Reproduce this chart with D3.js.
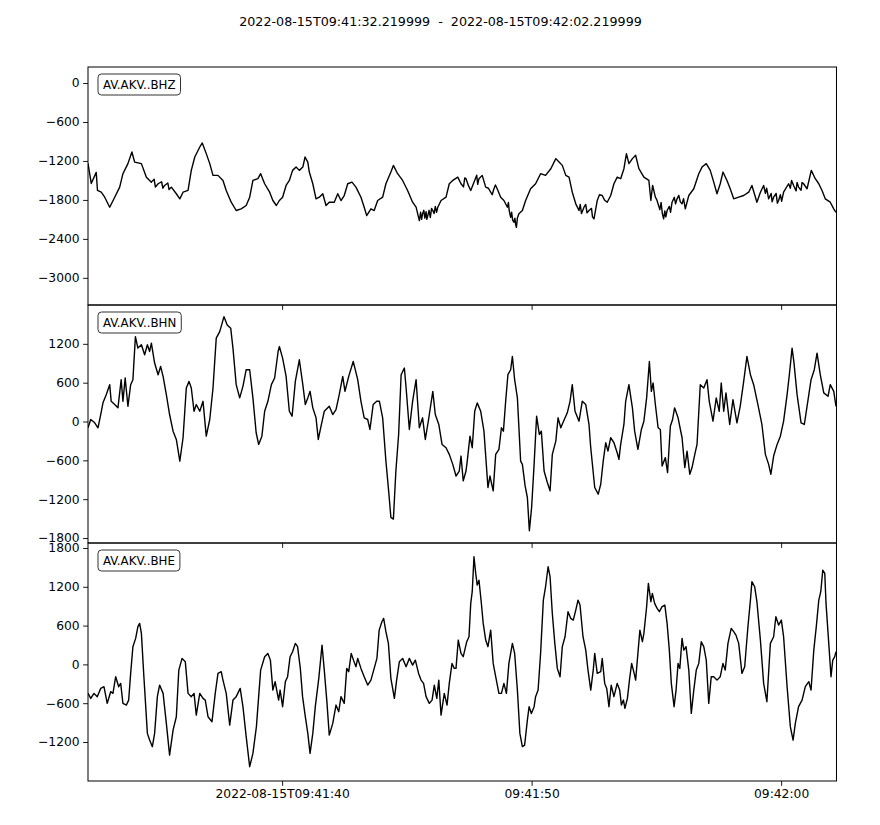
<!DOCTYPE html>
<html><head><meta charset="utf-8">
<script src="https://cdn.jsdelivr.net/npm/d3@7"></script>
<style>body{margin:0;background:#fff}svg{display:block;font-family:"DejaVu Sans",sans-serif}</style>
</head><body><svg id="c" width="880" height="825"></svg>
<script>
const startISO = "2022-08-15T09:41:32.220Z";
const durationSec = 30;
const titleText = "2022-08-15T09:41:32.219999  -  2022-08-15T09:42:02.219999";
const traceIds = ["AV.AKV..BHZ", "AV.AKV..BHN", "AV.AKV..BHE"];

// [seconds after start, counts]
const bhz = [[0.00,-1237],[0.13,-1546],[0.33,-1376],[0.38,-1654],[0.53,-1681],[0.67,-1758],[0.87,-1912],[1.07,-1758],[1.27,-1603],[1.40,-1396],[1.60,-1241],[1.76,-1062],[1.87,-1217],[2.14,-1241],[2.34,-1449],[2.54,-1526],[2.65,-1480],[2.70,-1600],[2.81,-1551],[2.95,-1520],[3.00,-1620],[3.07,-1577],[3.20,-1540],[3.25,-1640],[3.34,-1603],[3.54,-1705],[3.68,-1783],[3.81,-1681],[4.01,-1654],[4.14,-1345],[4.28,-1139],[4.48,-985],[4.58,-923],[4.74,-1087],[4.88,-1241],[5.01,-1422],[5.21,-1422],[5.41,-1500],[5.54,-1654],[5.74,-1835],[5.94,-1963],[6.14,-1937],[6.34,-1886],[6.48,-1758],[6.61,-1500],[6.81,-1473],[6.92,-1396],[7.08,-1551],[7.28,-1681],[7.41,-1809],[7.55,-1886],[7.67,-1809],[7.80,-1758],[7.94,-1577],[8.07,-1500],[8.20,-1345],[8.34,-1294],[8.47,-1345],[8.61,-1294],[8.70,-1139],[8.81,-1217],[8.87,-1371],[9.01,-1551],[9.14,-1783],[9.27,-1758],[9.41,-1705],[9.54,-1886],[9.67,-1835],[9.87,-1835],[10.01,-1705],[10.14,-1809],[10.27,-1732],[10.41,-1551],[10.58,-1526],[10.74,-1603],[10.94,-1758],[11.07,-1912],[11.17,-2041],[11.34,-1937],[11.47,-1963],[11.61,-1809],[11.81,-1758],[11.94,-1551],[12.14,-1371],[12.24,-1268],[12.41,-1396],[12.61,-1500],[12.81,-1654],[13.01,-1835],[13.15,-1912],[13.28,-2118],[13.33,-1990],[13.37,-2100],[13.41,-2014],[13.46,-1960],[13.50,-2080],[13.55,-1980],[13.58,-2100],[13.62,-2041],[13.67,-1960],[13.72,-2070],[13.77,-1930],[13.82,-1963],[13.87,-2010],[13.92,-1900],[13.97,-1990],[14.02,-1912],[14.15,-1809],[14.35,-1758],[14.48,-1551],[14.62,-1500],[14.82,-1449],[14.95,-1551],[15.05,-1600],[15.10,-1460],[15.15,-1473],[15.25,-1580],[15.34,-1654],[15.47,-1526],[15.58,-1420],[15.62,-1560],[15.67,-1473],[15.80,-1422],[15.94,-1603],[16.05,-1620],[16.14,-1681],[16.20,-1720],[16.27,-1628],[16.33,-1570],[16.40,-1628],[16.54,-1758],[16.67,-1809],[16.81,-1912],[16.85,-1840],[16.88,-1960],[16.94,-2067],[16.98,-1990],[17.02,-2110],[17.07,-2144],[17.11,-2080],[17.14,-2180],[17.17,-2222],[17.21,-2080],[17.27,-2014],[17.41,-1963],[17.54,-1809],[17.74,-1628],[17.94,-1551],[18.14,-1396],[18.34,-1422],[18.55,-1319],[18.75,-1164],[18.88,-1217],[19.01,-1268],[19.15,-1422],[19.28,-1449],[19.41,-1681],[19.55,-1860],[19.68,-1963],[19.73,-1870],[19.78,-2010],[19.88,-1912],[19.95,-1870],[20.00,-2000],[20.08,-1963],[20.18,-1930],[20.22,-2060],[20.28,-2092],[20.41,-1809],[20.50,-1720],[20.61,-1732],[20.70,-1800],[20.81,-1835],[20.95,-1732],[21.08,-1551],[21.21,-1449],[21.35,-1473],[21.48,-1319],[21.58,-1087],[21.68,-1241],[21.82,-1164],[21.95,-1113],[22.08,-1319],[22.28,-1449],[22.48,-1500],[22.56,-1809],[22.63,-1577],[22.74,-1758],[22.80,-1800],[22.87,-1886],[22.92,-1950],[22.97,-1840],[23.02,-2010],[23.07,-2092],[23.12,-1970],[23.16,-2060],[23.21,-1963],[23.30,-1900],[23.35,-1990],[23.41,-1835],[23.50,-1760],[23.55,-1860],[23.61,-1783],[23.68,-1730],[23.74,-1830],[23.81,-1860],[23.87,-1780],[23.94,-1937],[24.08,-1732],[24.28,-1628],[24.48,-1396],[24.61,-1294],[24.78,-1241],[24.94,-1345],[25.08,-1526],[25.21,-1705],[25.34,-1551],[25.45,-1371],[25.61,-1500],[25.74,-1628],[25.88,-1783],[26.08,-1758],[26.28,-1732],[26.48,-1681],[26.61,-1577],[26.81,-1835],[26.95,-1681],[27.08,-1577],[27.15,-1700],[27.20,-1620],[27.28,-1783],[27.38,-1700],[27.42,-1830],[27.48,-1758],[27.58,-1700],[27.63,-1850],[27.68,-1809],[27.75,-1720],[27.80,-1820],[27.88,-1681],[28.08,-1551],[28.15,-1620],[28.20,-1500],[28.28,-1577],[28.38,-1660],[28.42,-1530],[28.48,-1603],[28.58,-1650],[28.62,-1530],[28.68,-1551],[28.82,-1628],[28.99,-1345],[29.15,-1473],[29.29,-1551],[29.42,-1654],[29.55,-1783],[29.75,-1835],[29.89,-1937],[29.98,-1990]];

const bhn = [[0.00,-97],[0.11,31],[0.27,-20],[0.40,-97],[0.51,108],[0.60,288],[0.73,415],[0.87,569],[0.93,312],[1.07,262],[1.20,211],[1.33,646],[1.40,312],[1.49,672],[1.60,235],[1.71,569],[1.80,646],[1.90,1312],[2.00,1134],[2.14,1185],[2.27,1031],[2.38,1185],[2.47,1082],[2.54,1211],[2.67,903],[2.81,723],[2.91,851],[3.01,697],[3.14,415],[3.27,108],[3.41,-149],[3.54,-277],[3.68,-611],[3.81,-251],[3.94,518],[4.05,620],[4.14,518],[4.25,158],[4.34,262],[4.48,158],[4.61,312],[4.74,-226],[4.88,31],[5.01,518],[5.14,1288],[5.28,1389],[5.45,1620],[5.58,1492],[5.72,1442],[5.81,1134],[5.94,569],[6.08,365],[6.21,543],[6.34,800],[6.48,800],[6.61,365],[6.74,-174],[6.84,-354],[6.97,-226],[7.08,158],[7.21,312],[7.35,569],[7.48,672],[7.62,1082],[7.67,1158],[7.80,980],[7.94,697],[8.07,158],[8.18,82],[8.31,620],[8.47,954],[8.61,569],[8.71,262],[8.81,365],[8.90,466],[9.01,211],[9.14,57],[9.23,-277],[9.34,-72],[9.47,158],[9.67,235],[9.81,108],[9.94,185],[10.07,415],[10.21,697],[10.30,466],[10.45,697],[10.63,928],[10.81,646],[10.94,312],[11.07,57],[11.21,31],[11.30,-123],[11.43,262],[11.57,312],[11.68,312],[11.81,57],[11.94,-611],[12.05,-1072],[12.14,-1482],[12.24,-1508],[12.34,-765],[12.45,-200],[12.55,723],[12.68,826],[12.75,518],[12.88,-123],[13.01,312],[13.15,646],[13.28,-97],[13.41,57],[13.52,-277],[13.65,31],[13.82,466],[13.92,108],[14.06,-46],[14.19,-354],[14.35,-405],[14.48,-508],[14.62,-662],[14.75,-842],[14.88,-765],[14.95,-534],[15.04,-918],[15.15,-765],[15.20,-611],[15.31,-226],[15.40,-405],[15.50,158],[15.60,288],[15.74,158],[15.87,-149],[16.03,-1020],[16.11,-842],[16.24,-1072],[16.34,-508],[16.47,-431],[16.57,-97],[16.65,-149],[16.74,312],[16.83,723],[16.94,800],[17.01,1005],[17.10,646],[17.21,365],[17.34,-611],[17.41,-662],[17.52,-995],[17.61,-1174],[17.69,-1688],[17.78,-1328],[17.88,-662],[17.98,82],[18.09,-200],[18.17,-149],[18.28,-765],[18.41,-943],[18.52,-1072],[18.61,-508],[18.75,-303],[18.84,57],[18.95,-97],[19.09,31],[19.21,134],[19.32,312],[19.41,569],[19.52,158],[19.68,5],[19.81,312],[19.95,262],[20.08,-46],[20.15,-405],[20.31,-1020],[20.45,-1123],[20.55,-969],[20.65,-611],[20.75,-328],[20.84,-457],[20.95,-251],[21.08,-328],[21.21,-482],[21.28,-585],[21.35,-354],[21.48,-46],[21.55,312],[21.68,569],[21.82,211],[21.91,-149],[22.04,-431],[22.18,-123],[22.28,5],[22.39,365],[22.50,928],[22.58,466],[22.65,595],[22.74,262],[22.85,-97],[22.94,-123],[23.01,-688],[23.14,-558],[23.23,-789],[23.34,-72],[23.43,31],[23.51,211],[23.65,57],[23.81,-251],[23.92,-712],[24.01,-457],[24.12,-815],[24.21,-712],[24.32,-508],[24.41,-354],[24.54,569],[24.68,518],[24.81,646],[24.90,312],[25.05,5],[25.18,365],[25.30,158],[25.38,595],[25.48,158],[25.57,442],[25.72,-46],[25.85,338],[26.01,-20],[26.14,235],[26.28,620],[26.41,1005],[26.55,723],[26.68,569],[26.85,262],[27.01,-46],[27.15,-508],[27.28,-662],[27.37,-815],[27.48,-534],[27.62,-354],[27.75,-226],[27.88,5],[28.02,415],[28.11,723],[28.22,1134],[28.29,928],[28.42,415],[28.58,-20],[28.71,-46],[28.85,312],[28.98,646],[29.11,800],[29.22,1057],[29.35,723],[29.49,442],[29.66,389],[29.75,569],[29.89,466],[29.98,235]];

const bhe = [[0.00,-448],[0.11,-526],[0.24,-448],[0.37,-499],[0.51,-371],[0.64,-345],[0.77,-603],[0.91,-422],[1.00,-448],[1.11,-190],[1.23,-345],[1.31,-294],[1.40,-603],[1.54,-629],[1.63,-552],[1.71,-139],[1.80,274],[1.91,402],[2.00,583],[2.07,634],[2.14,479],[2.24,-190],[2.38,-1067],[2.47,-1170],[2.58,-1272],[2.67,-1067],[2.78,-499],[2.87,-320],[3.01,-448],[3.14,-912],[3.27,-1402],[3.41,-1016],[3.54,-809],[3.64,-88],[3.77,93],[3.90,42],[4.01,-448],[4.14,-499],[4.25,-448],[4.34,-784],[4.48,-448],[4.61,-526],[4.70,-552],[4.81,-809],[4.97,-886],[5.10,-448],[5.21,-139],[5.34,-113],[5.41,-243],[5.54,-448],[5.68,-938],[5.81,-552],[5.94,-499],[6.10,-371],[6.21,-654],[6.34,-1118],[6.48,-1582],[6.61,-1376],[6.75,-963],[6.92,-88],[7.08,119],[7.21,170],[7.31,66],[7.41,-397],[7.50,-267],[7.64,-552],[7.70,-397],[7.80,-654],[7.91,-267],[8.00,-190],[8.10,119],[8.20,196],[8.31,325],[8.40,274],[8.51,-62],[8.60,-499],[8.71,-809],[8.81,-1067],[8.90,-1376],[9.01,-1067],[9.11,-654],[9.25,-216],[9.38,298],[9.47,-88],[9.57,-552],[9.67,-1093],[9.81,-912],[9.94,-629],[10.05,-731],[10.14,-499],[10.27,-603],[10.37,-62],[10.45,-113],[10.55,170],[10.64,66],[10.74,-36],[10.81,93],[10.94,-62],[11.07,-190],[11.21,-320],[11.34,-243],[11.47,-62],[11.58,93],[11.67,530],[11.78,660],[11.85,711],[11.94,506],[12.04,325],[12.14,-216],[12.28,-526],[12.37,-243],[12.48,42],[12.61,93],[12.75,-36],[12.88,93],[13.01,-11],[13.12,66],[13.25,-139],[13.35,-243],[13.45,-294],[13.55,-499],[13.68,-603],[13.79,-552],[13.88,-320],[13.98,-526],[14.06,-243],[14.15,-784],[14.28,-448],[14.39,-629],[14.48,-294],[14.59,15],[14.68,-62],[14.75,-62],[14.84,376],[14.95,170],[15.04,119],[15.18,351],[15.27,428],[15.34,943],[15.40,1124],[15.47,1665],[15.54,1407],[15.60,1226],[15.67,1303],[15.76,969],[15.84,634],[15.94,376],[16.03,274],[16.14,530],[16.24,15],[16.34,-190],[16.47,-448],[16.57,-448],[16.67,-294],[16.77,-448],[16.87,15],[17.01,325],[17.10,170],[17.21,-397],[17.31,-1067],[17.41,-1272],[17.50,-1248],[17.61,-861],[17.68,-654],[17.77,-758],[17.88,-654],[17.94,-499],[18.04,-397],[18.14,170],[18.25,994],[18.34,1201],[18.44,1510],[18.52,1356],[18.61,788],[18.71,325],[18.81,-62],[18.92,-190],[19.01,274],[19.12,428],[19.24,815],[19.35,711],[19.45,685],[19.55,840],[19.64,994],[19.72,917],[19.84,428],[19.95,221],[20.04,-88],[20.15,-397],[20.25,-88],[20.31,170],[20.41,-139],[20.55,-113],[20.61,93],[20.71,-294],[20.79,-371],[20.88,-654],[20.97,-320],[21.08,-499],[21.21,-294],[21.31,-397],[21.38,-629],[21.46,-552],[21.52,-680],[21.62,-526],[21.71,-216],[21.79,15],[21.89,-139],[21.95,-243],[22.04,170],[22.12,530],[22.22,351],[22.28,479],[22.39,892],[22.46,1252],[22.56,969],[22.62,1098],[22.71,943],[22.81,866],[22.90,815],[23.01,892],[23.12,917],[23.21,634],[23.30,221],[23.38,-294],[23.49,-654],[23.57,-397],[23.65,15],[23.72,-62],[23.81,402],[23.88,221],[23.97,274],[24.08,-88],[24.18,-758],[24.28,-397],[24.38,-88],[24.48,15],[24.58,351],[24.68,274],[24.78,66],[24.88,-603],[24.98,-190],[25.08,-190],[25.21,-243],[25.34,-190],[25.45,15],[25.54,-88],[25.65,325],[25.78,557],[25.88,506],[25.97,453],[26.08,325],[26.21,-139],[26.32,-36],[26.45,583],[26.55,994],[26.61,1279],[26.72,1201],[26.81,969],[26.95,376],[27.08,-294],[27.21,-577],[27.35,325],[27.48,428],[27.57,737],[27.68,608],[27.79,685],[27.88,428],[28.02,-345],[28.15,-963],[28.26,-1170],[28.35,-912],[28.48,-654],[28.62,-552],[28.75,-345],[28.89,-267],[28.98,-397],[29.09,221],[29.19,583],[29.29,994],[29.37,1124],[29.45,1458],[29.53,1407],[29.58,943],[29.69,325],[29.78,-190],[29.85,66],[29.93,119],[29.98,196]];

const yLimits = [[-3418, 247], [-1877, 1800], [-1803, 1877]];
const yTickValues = [
  [-3000, -2400, -1800, -1200, -600, 0],
  [-1800, -1200, -600, 0, 600, 1200],
  [-1200, -600, 0, 600, 1200, 1800]
];
const xTickTimes = ["2022-08-15T09:41:40Z", "2022-08-15T09:41:50Z", "2022-08-15T09:42:00Z"];
const xTickLabels = ["2022-08-15T09:41:40", "09:41:50", "09:42:00"];

const traces = [bhz, bhn, bhe];

// layout
const plotL = 88, plotR = 836.5, plotT = 67, plotB = 781;
const panelH = (plotB - plotT) / 3;
const fontSize = 12.3;

const svg = d3.select("#c");
const t0 = new Date(startISO);
const t1 = new Date(t0.getTime() + durationSec * 1000);
const x = d3.scaleUtc().domain([t0, t1]).range([plotL, plotR]);
const tAt = s => new Date(t0.getTime() + s * 1000);
const fmt = d => d < 0 ? "\u2212" + Math.abs(d) : String(d);

svg.append("text")
  .attr("x", 440.5).attr("y", 26)
  .attr("text-anchor", "middle")
  .style("font-size", "12.7px")
  .style("white-space", "pre")
  .text(titleText);

traces.forEach((data, i) => {
  const y0 = plotT + i * panelH, y1 = y0 + panelH;
  const y = d3.scaleLinear().domain(yLimits[i]).range([y1, y0]);
  const g = svg.append("g");

  svg.append("clipPath").attr("id", "clip" + i)
    .append("rect").attr("x", plotL).attr("y", y0).attr("width", plotR - plotL).attr("height", panelH);

  const line = d3.line().x(d => x(tAt(d[0]))).y(d => y(d[1]));
  g.append("path").datum(data)
    .attr("clip-path", `url(#clip${i})`)
    .attr("fill", "none").attr("stroke", "#000")
    .attr("stroke-width", 1.4).attr("stroke-linejoin", "round")
    .attr("d", line);

  const ya = g.append("g").attr("transform", `translate(${plotL},0)`)
    .call(d3.axisLeft(y).tickValues(yTickValues[i]).tickFormat(fmt).tickSize(4.9).tickPadding(3.5));
  ya.select(".domain").remove();
  ya.selectAll("text").style("font-size", fontSize + "px").style("font-family", "DejaVu Sans");
  ya.selectAll("line").attr("stroke", "#000").attr("stroke-width", 0.9);

  const xa = g.append("g").attr("transform", `translate(0,${y1})`)
    .call(d3.axisBottom(x).tickValues(xTickTimes.map(s => new Date(s)))
      .tickFormat((d, k) => i === 2 ? xTickLabels[k] : "").tickSize(4.9).tickPadding(3.5));
  xa.select(".domain").remove();
  xa.selectAll("text").style("font-size", fontSize + "px").style("font-family", "DejaVu Sans");
  xa.selectAll("line").attr("stroke", "#000").attr("stroke-width", 0.9);

  g.append("rect").attr("x", plotL).attr("y", y0).attr("width", plotR - plotL).attr("height", panelH)
    .attr("fill", "none").attr("stroke", "#000").attr("stroke-width", 1);

  const lab = g.append("g");
  const txt = lab.append("text").attr("x", 103).attr("y", y0 + 21.5)
    .style("font-size", "11.8px").text(traceIds[i]);
  const bb = txt.node().getBBox();
  lab.insert("rect", "text")
    .attr("x", bb.x - 5).attr("y", y0 + 7).attr("width", bb.width + 10).attr("height", 21)
    .attr("rx", 3.5).attr("fill", "#fff").attr("stroke", "#333").attr("stroke-width", 1);
});
</script>
</body></html>
